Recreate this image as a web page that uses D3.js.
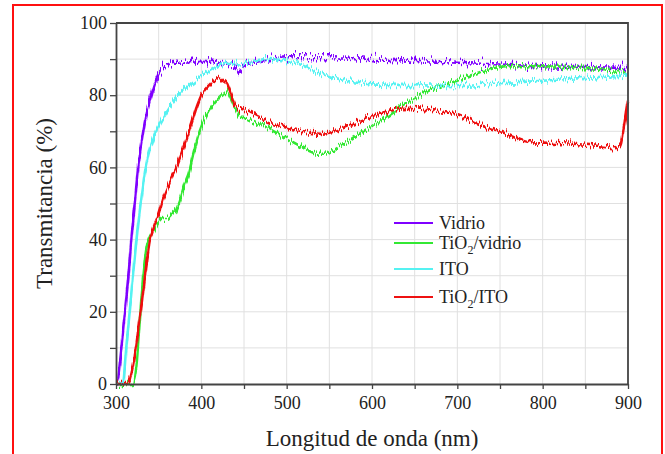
<!DOCTYPE html>
<html>
<head>
<meta charset="utf-8">
<script src="https://cdn.jsdelivr.net/npm/d3@7"></script>
<style>
  body { margin: 0; background: #fff; }
  svg text { font-family: "Liberation Serif", "Tinos", "Times New Roman", "DejaVu Serif", serif !important; fill: #222; }
</style>
</head>
<body>
<script>
// wavelength (nm) / transmittance (%) pairs
const vidrio = [[300,0],[301,0],[305,7],[310,19],[315,31],[318,40],[322,50],[326,60],[330,67],[335,74],[340,79],[345,83],[350,86],[355,87.5],[360,88.5],[370,89],[380,89],[400,89.5],[420,89],[435,88.5],[445,87],[452,88.5],[460,89],[480,90],[500,90.5],[550,90.5],[600,90],[650,89.5],[700,89],[750,88.5],[800,88],[850,87.8],[900,87.5]];
const tio2Vidrio = [[300,0],[320,0],[324,5],[328,18],[332,30],[336,38],[340,41],[345,43],[350,45],[355,46],[360,46],[365,47],[370,48],[375,51],[380,55],[385,58],[390,63],[398,70],[405,74],[410,76],[420,79],[425,80],[430,81],[435,79],[440,76],[445,74],[450,74],[460,73],[477,71],[500,68],[515,66],[525,64.7],[535,63.8],[545,63.8],[555,64.8],[565,66.2],[575,67.8],[590,70],[610,73],[641,78],[660,80.5],[688,83.4],[710,85],[727,86.4],[758,88],[780,88],[800,88],[850,87.5],[880,87],[900,86]];
const ito = [[300,0],[308,0],[312,10],[316,20],[320,30],[324,40],[329,50],[335,60],[341,66],[347,70],[358,75],[373,80],[392,84],[412,87],[430,89],[445,88.5],[460,89.5],[480,90],[510,89],[540,86],[570,84],[600,83],[650,82.8],[700,82.5],[750,83.3],[800,84],[850,84.8],[900,85.5]];
const tio2Ito = [[300,0],[313,0],[318,3],[322,8],[326,15],[330,22],[335,32],[340,40],[345,44],[350,47],[355,51],[360,54],[365,57],[371,60],[380,66],[387,71],[395,77],[400,80],[410,83],[420,85],[425,84],[430,83],[435,80],[440,77],[450,76],[477,73],[500,71],[520,70],[530,69.5],[540,69.3],[550,69.6],[565,70.8],[580,72.3],[610,75],[641,76.5],[668,76],[700,74.5],[723,72],[750,70],[785,67],[824,66.7],[863,66],[885,65.3],[891,66],[895,71],[900,78.5]];

const series = [
  {name: ["Vidrio"], data: vidrio, color: "#7f00ff", jitter: 17},
  {name: ["TiO", "2", "/vidrio"], data: tio2Vidrio, color: "#33e833", jitter: 12},
  {name: ["ITO"], data: ito, color: "#55f2f2", jitter: 12},
  {name: ["TiO", "2", "/ITO"], data: tio2Ito, color: "#ee1111", jitter: 12}
];
const legendY = [223, 243, 269, 297];

const xMajor = [300, 400, 500, 600, 700, 800, 900];
const yMajor = [0, 20, 40, 60, 80, 100];

const width = 665, height = 454;
const margin = {left: 116, right: 37, top: 23, bottom: 70};

const svg = d3.select("body").append("svg")
    .attr("width", width)
    .attr("height", height);

const x = d3.scaleLinear().domain([300, 900]).range([margin.left, width - margin.right]);
const y = d3.scaleLinear().domain([0, 100]).range([height - margin.bottom, margin.top]);

// outer red frame
svg.append("rect")
    .attr("x", 13).attr("y", 5)
    .attr("width", 649).attr("height", 470)
    .attr("fill", "none")
    .attr("stroke", "#ff1010")
    .attr("stroke-width", 2);

// grid
svg.append("g")
    .attr("stroke", "#e0e0e0")
    .attr("stroke-width", 1)
  .selectAll("line")
  .data(d3.range(350, 900, 50))
  .join("line")
    .attr("x1", d => x(d)).attr("x2", d => x(d))
    .attr("y1", y(0)).attr("y2", y(100));
svg.append("g")
    .attr("stroke", "#e0e0e0")
    .attr("stroke-width", 1)
  .selectAll("line")
  .data(d3.range(10, 100, 10))
  .join("line")
    .attr("x1", x(300)).attr("x2", x(900))
    .attr("y1", d => y(d)).attr("y2", d => y(d));

// vertical-only jitter filters -> noisy look of the measured traces
const defs = svg.append("defs");
series.forEach((s, i) => {
  const f = defs.append("filter").attr("id", "noisy" + i)
      .attr("filterUnits", "userSpaceOnUse")
      .attr("x", 0).attr("y", 0).attr("width", width).attr("height", height);
  f.append("feTurbulence")
      .attr("type", "fractalNoise")
      .attr("baseFrequency", "0.8 0.03")
      .attr("numOctaves", 3)
      .attr("seed", 3 + i)
      .attr("result", "t");
  // R fixed at 0.5 so nothing moves sideways, alpha forced to 1
  f.append("feColorMatrix")
      .attr("in", "t")
      .attr("type", "matrix")
      .attr("values", "0 0 0 0 0.5  0 1 0 0 0  0 0 0 0 0  0 0 0 0 1")
      .attr("result", "m");
  f.append("feDisplacementMap")
      .attr("in", "SourceGraphic")
      .attr("in2", "m")
      .attr("scale", s.jitter)
      .attr("xChannelSelector", "R")
      .attr("yChannelSelector", "G");
});

const line = d3.line()
    .x(d => x(d[0]))
    .y(d => y(d[1]))
    .curve(d3.curveMonotoneX);

svg.append("g")
  .selectAll("path")
  .data(series)
  .join("path")
    .attr("fill", "none")
    .attr("stroke", d => d.color)
    .attr("stroke-width", 2.6)
    .attr("stroke-linejoin", "round")
    .attr("filter", (d, i) => `url(#noisy${i})`)
    .attr("d", d => line(d.data));

// axes
const axisColor = "#444";
const xAxis = svg.append("g")
    .attr("transform", `translate(0,${y(0)})`)
    .call(d3.axisBottom(x).tickValues(d3.range(300, 901, 50)).tickSize(5).tickSizeOuter(0)
      .tickFormat(d => xMajor.includes(d) ? d : ""));
const yAxis = svg.append("g")
    .attr("transform", `translate(${x(300)},0)`)
    .call(d3.axisLeft(y).tickValues(d3.range(0, 101, 10)).tickSize(6).tickSizeOuter(0)
      .tickFormat(d => yMajor.includes(d) ? d : ""));

[xAxis, yAxis].forEach(g => {
  g.attr("font-family", null);
  g.select(".domain").attr("stroke", axisColor).attr("stroke-width", 1.8);
  g.selectAll(".tick line").attr("stroke", axisColor).attr("stroke-width", 1.3);
  g.selectAll(".tick text")
      .attr("font-size", 18)
      .attr("fill", "#222");
});
xAxis.selectAll(".tick text").attr("dy", "0.95em");
yAxis.selectAll(".tick text").attr("x", -9);

// top and right sides of the box
svg.append("path")
    .attr("d", `M${x(300)},${y(100)}H${x(900)}V${y(0)}`)
    .attr("fill", "none")
    .attr("stroke", axisColor)
    .attr("stroke-width", 1.8);

// axis titles
svg.append("text")
    .attr("x", (x(300) + x(900)) / 2)
    .attr("y", 446)
    .attr("text-anchor", "middle")
    .attr("font-size", 23)
    .text("Longitud de onda (nm)");
svg.append("text")
    .attr("transform", `translate(52,${(y(0) + y(100)) / 2}) rotate(-90)`)
    .attr("text-anchor", "middle")
    .attr("font-size", 23)
    .text("Transmitancia (%)");

// legend
const legend = svg.append("g")
  .selectAll("g")
  .data(series)
  .join("g")
    .attr("transform", (d, i) => `translate(394,${legendY[i]})`);
legend.append("line")
    .attr("x1", 0).attr("x2", 39)
    .attr("stroke", d => d.color)
    .attr("stroke-width", 2);
legend.append("text")
    .attr("x", 45)
    .attr("dy", "0.32em")
    .attr("font-size", 18)
    .each(function(d) {
      const t = d3.select(this);
      t.append("tspan").text(d.name[0]);
      if (d.name.length > 1) {
        t.append("tspan").attr("font-size", 12).attr("dy", 5).text(d.name[1]);
        t.append("tspan").attr("dy", -5).text(d.name[2]);
      }
    });
</script>
</body>
</html>
